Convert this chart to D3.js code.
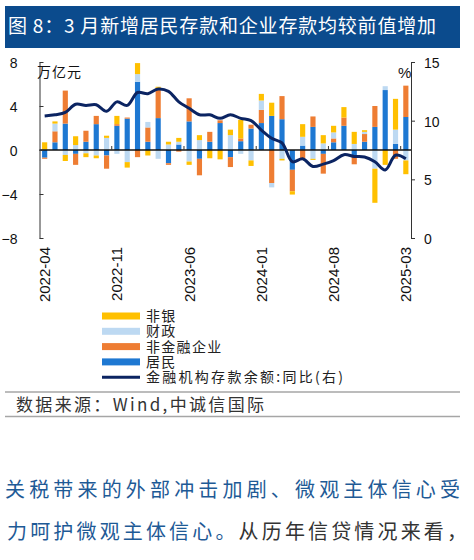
<!DOCTYPE html>
<html><head><meta charset="utf-8">
<script src="https://cdn.jsdelivr.net/npm/d3@7/dist/d3.min.js"></script>
<style>
html,body{margin:0;padding:0;background:#fff;}
svg{display:block;}
</style></head>
<body>
<svg id="chart" width="474" height="560"></svg>
<script>
const months = ["2022-04","2022-05","2022-06","2022-07","2022-08","2022-09","2022-10","2022-11","2022-12",
  "2023-01","2023-02","2023-03","2023-04","2023-05","2023-06","2023-07","2023-08","2023-09","2023-10","2023-11","2023-12",
  "2024-01","2024-02","2024-03","2024-04","2024-05","2024-06","2024-07","2024-08","2024-09","2024-10","2024-11","2024-12",
  "2025-01","2025-02","2025-03"];
const tickLabels = ["2022-04","2022-11","2023-06","2024-01","2024-08","2025-03"];
// 万亿元
const household = [-0.7,0.7,2.4,-0.35,0.75,2.35,-0.5,2.2,2.85,6.2,0.75,2.9,-1.2,0.5,2.6,-0.8,0.75,2.45,-0.65,0.8,1.95,2.45,3.1,2.8,-1.8,0.4,2.1,-0.35,0.7,2.2,-0.6,0.75,2.1,5.45,0.55,3.0];
const corporate = [-0.1,1.0,3.0,-1.0,1.0,0.75,-1.2,0.15,0.1,-0.65,1.3,2.75,-0.15,-0.15,2.1,-1.5,0.9,0.25,-0.9,0.25,0.35,1.2,-3.0,2.1,-1.95,-0.75,0.95,-1.8,0.35,0.75,-0.7,0.7,1.9,0,-0.8,2.85];
const fiscal = [0.05,0.7,-0.45,0.45,-0.3,-0.5,1.1,-0.35,-1.1,0.7,0.5,-0.8,0.5,0.25,-1.05,0.9,0,0,1.35,-0.35,-0.95,0.85,-0.4,-0.8,0,0.8,-0.8,0.6,0.55,0,0.55,0.2,-1.7,0.35,1.3,-0.95];
const nonbank = [0.65,0.2,-0.55,0.8,-0.35,-0.25,0.2,0.75,-0.5,1.0,-0.5,0.1,0.25,0.35,-0.3,0.45,-0.75,-0.85,0.5,1.7,-0.5,0.6,1.2,-0.15,-0.3,1.15,-0.1,0.75,0.6,0.95,1.1,0.15,-3.1,-1.35,2.8,-1.25];
// %
const depositYoY = [10.4,10.5,10.7,11.4,11.3,11.35,10.8,11.6,11.3,12.4,12.3,12.7,12.5,11.6,11.05,10.5,10.5,10.2,10.5,10.2,10.0,9.2,8.5,8.1,6.5,6.75,6.1,6.3,6.6,7.1,6.95,6.9,6.5,5.8,7.05,6.75];
const leftTicks = [8,4,0,-4,-8];
const rightTicks = [15,10,5,0];

const seriesNames = ["居民","非金融企业","财政","非银"];
const seriesColors = {"居民":"#1E78D2","非金融企业":"#EE7D33","财政":"#BDD9F2","非银":"#FFC000"};
const lineName = "金融机构存款余额:同比(右)";
const lineColor = "#0B2462";

const CJK = "'Noto Sans CJK SC','Noto Sans',sans-serif";
const LAT = "'Liberation Sans',Arial,sans-serif";

const svg = d3.select("#chart");
svg.append("rect").attr("width",474).attr("height",560).attr("fill","#fff");

// title bar
svg.append("rect").attr("x",5).attr("y",6).attr("width",455).attr("height",42).attr("fill","#0B4B8D");
svg.append("text").attr("x",8).attr("y",33).attr("fill","#fff")
  .attr("font-family",CJK).attr("font-size",19)
  .attr("textLength",428).attr("lengthAdjust","spacing")
  .text("图 8：3 月新增居民存款和企业存款均较前值增加");

const table = months.map((m,i)=>({month:m,"居民":household[i],"非金融企业":corporate[i],"财政":fiscal[i],"非银":nonbank[i]}));

const x = d3.scaleBand().domain(months).range([39.5,411]).paddingInner(0.5).paddingOuter(0.25);
const yL = d3.scaleLinear().domain([-8,8]).range([238,62]);
const yR = d3.scaleLinear().domain([0,15]).range([238,62]);

const stack = d3.stack().keys(seriesNames).offset(d3.stackOffsetDiverging);
const stacked = stack(table);

const bars = svg.append("g");
stacked.forEach(s=>{
  bars.append("g").attr("fill",seriesColors[s.key])
    .selectAll("rect").data(s).join("rect")
    .attr("x",d=>x(d.data.month))
    .attr("width",x.bandwidth())
    .attr("y",d=>yL(Math.max(d[0],d[1])))
    .attr("height",d=>Math.abs(yL(d[0])-yL(d[1])));
});

// zero line
svg.append("line").attr("x1",39.5).attr("x2",411).attr("y1",yL(0)).attr("y2",yL(0))
  .attr("stroke","#111").attr("stroke-width",1.3);

// category boundary ticks every 7 months
const step = x.step();
const boundaryIdx = d3.range(7,36,7);
svg.append("g").selectAll("line").data(boundaryIdx).join("line")
  .attr("x1",i=>x(months[i])-(step-x.bandwidth())/2)
  .attr("x2",i=>x(months[i])-(step-x.bandwidth())/2)
  .attr("y1",yL(0)).attr("y2",yL(0)-4)
  .attr("stroke","#333").attr("stroke-width",1);

// line
const line = d3.line()
  .x((d,i)=>x(months[i])+x.bandwidth()/2)
  .y(d=>yR(d))
  .curve(d3.curveCatmullRom.alpha(0.5));
svg.append("path").datum(depositYoY).attr("d",line)
  .attr("fill","none").attr("stroke",lineColor).attr("stroke-width",3).attr("stroke-linejoin","round");

// left axis
const gL = svg.append("g").attr("transform","translate(39.5,0)")
  .call(d3.axisLeft(yL).tickValues(leftTicks).tickSizeInner(-4).tickSizeOuter(0).tickPadding(22).tickFormat(d3.format("d")));
gL.select(".domain").attr("stroke","#333");
gL.selectAll(".tick line").attr("stroke","#333");
gL.selectAll("text").attr("font-family",LAT).attr("font-size",14).attr("fill","#111").attr("dy","0.4em");

// right axis
const gR = svg.append("g").attr("transform","translate(411,0)")
  .call(d3.axisRight(yR).tickValues(rightTicks).tickSizeInner(4).tickSizeOuter(0).tickPadding(9).tickFormat(d3.format("d")));
gR.select(".domain").attr("stroke","#333");
gR.selectAll(".tick line").attr("stroke","#333");
gR.selectAll("text").attr("font-family",LAT).attr("font-size",14).attr("fill","#111").attr("dy","0.4em");

// x labels
const gX = svg.append("g").attr("transform","translate(0,238)")
  .call(d3.axisBottom(x).tickValues(tickLabels).tickSize(0));
gX.select(".domain").remove();
gX.selectAll("text").attr("font-family",LAT).attr("font-size",15).attr("fill","#111")
  .attr("transform","rotate(-90)").attr("x",-9).attr("y",0).attr("dy","0.36em").attr("text-anchor","end");

// unit labels
svg.append("text").attr("x",37).attr("y",77).attr("font-family",CJK).attr("font-size",14)
  .attr("letter-spacing",1).attr("fill","#111").text("万亿元");
svg.append("text").attr("x",398).attr("y",78).attr("font-family",LAT).attr("font-size",15)
  .attr("fill","#111").text("%");

// legend
const legendItems = ["非银","财政","非金融企业","居民"].map(k=>({name:k,color:seriesColors[k],type:"bar"}))
  .concat([{name:lineName,color:lineColor,type:"line"}]);
const lg = svg.append("g");
legendItems.forEach((it,i)=>{
  const cy = 316 + i*15.3;
  if(it.type==="bar"){
    lg.append("rect").attr("x",102).attr("y",cy-3.5).attr("width",38).attr("height",7).attr("fill",it.color);
  } else {
    lg.append("line").attr("x1",102).attr("x2",140).attr("y1",cy).attr("y2",cy)
      .attr("stroke",it.color).attr("stroke-width",3);
  }
  const t = lg.append("text").attr("x",146).attr("y",cy).attr("dy","0.36em")
    .attr("font-family",CJK).attr("font-size",14).attr("letter-spacing",1.3).attr("fill","#222").text(it.name);
  if(it.type==="line") t.attr("textLength",197).attr("lengthAdjust","spacing").attr("letter-spacing",0);
});

// source
svg.append("line").attr("x1",5).attr("x2",460).attr("y1",392).attr("y2",392).attr("stroke","#A6A6A6").attr("stroke-width",1.5);
svg.append("text").attr("x",16).attr("y",411).attr("font-family",CJK).attr("font-size",17).attr("fill","#333")
  .attr("textLength",248).attr("lengthAdjust","spacing").text("数据来源：Wind,中诚信国际");
svg.append("line").attr("x1",5).attr("x2",460).attr("y1",416.5).attr("y2",416.5).attr("stroke","#A6A6A6").attr("stroke-width",1.5);

// body text
svg.append("text").attr("x",5).attr("y",497).attr("font-family",CJK).attr("font-size",20)
  .attr("textLength",455).attr("lengthAdjust","spacing")
  .attr("fill","#1E5A96").text("关税带来的外部冲击加剧、微观主体信心受");
const t2 = svg.append("text").attr("x",7).attr("y",539).attr("font-family",CJK).attr("font-size",20)
  .attr("textLength",460).attr("lengthAdjust","spacing");
t2.append("tspan").attr("fill","#1E5A96").text("力呵护微观主体信心。");
t2.append("tspan").attr("fill","#333").text("从历年信贷情况来看，");
</script>
</body></html>
